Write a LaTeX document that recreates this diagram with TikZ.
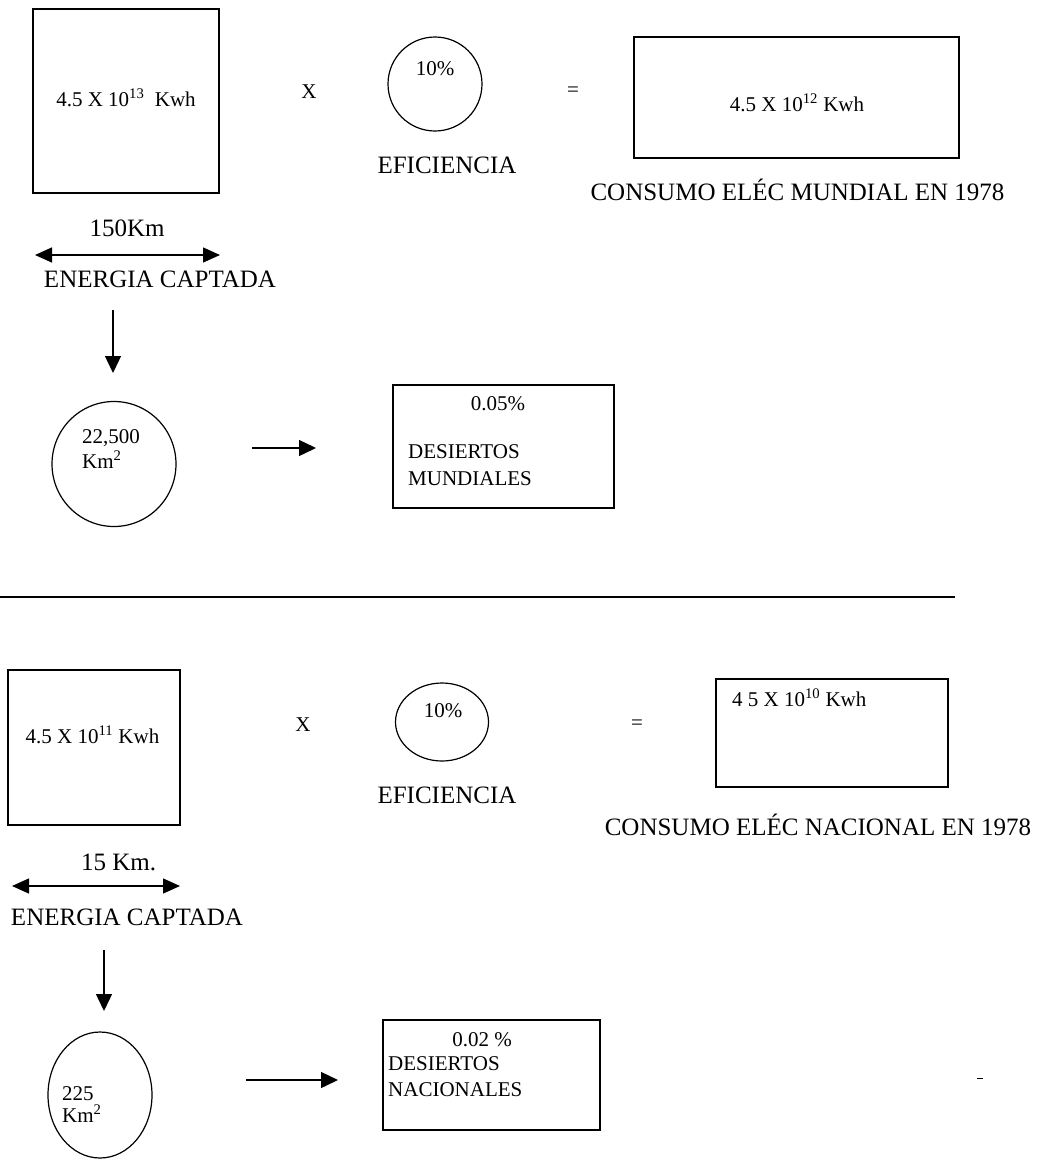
\documentclass[tikz,border=0pt]{standalone}
\usepackage{fontspec}
\setmainfont{Liberation Serif}
\usetikzlibrary{arrows.meta,shapes.geometric}
\begin{document}
\begin{tikzpicture}[x=1pt,y=-1pt,
  lbl/.style={inner sep=0pt,text height=0.66em,text depth=0pt,font=\fontsize{25}{30}\selectfont},
  sml/.style={inner sep=0pt,text height=0.66em,text depth=0pt,font=\fontsize{21}{25}\selectfont},
  boxed/.style={draw,line width=1.3pt,inner sep=0pt,rectangle},
  ell/.style={draw,line width=1.2pt,inner sep=0pt,ellipse},
  arr/.style={line width=1.4pt,-{Triangle[length=17pt,width=16pt]}},
  darr/.style={line width=1.4pt,{Triangle[length=17pt,width=15pt]}-{Triangle[length=17pt,width=15pt]}}]
\fill[white] (0,0) rectangle (1037,1170);
\useasboundingbox (0,0) rectangle (1037,1170);

% ---------- top part ----------
\node[boxed,minimum width=186pt,minimum height=184pt] (sq1) at (126,101) {};
\node[sml] (tsq1) at (126,103) {4.5 X 10\textsuperscript{13}\ \ Kwh};
\node[sml] (xop1) at (309,95) {X};
\node[ell,minimum width=94pt,minimum height=94pt] (c1) at (435,84) {};
\node[sml] (tc1) at (435,72) {10\%};
\node[lbl] (ef1) at (447,170) {EFICIENCIA};
\node[sml] (eq1) at (573,93) {=};
\node[boxed,minimum width=325pt,minimum height=121pt] (r1) at (796.5,97.5) {};
\node[sml] (tr1) at (797,108) {4.5 X 10\textsuperscript{12} Kwh};
\node[lbl] (cons1) at (797.5,197) {CONSUMO ELÉC MUNDIAL EN 1978};

\node[lbl] (km1) at (127,233) {150Km};
\coordinate (da1l) at (35,255);
\coordinate (da1r) at (220,255);
\draw[darr] (da1l) -- (da1r);
\node[lbl] (en1) at (160,284) {ENERGIA CAPTADA};
\coordinate (dn1a) at (113,310);
\coordinate (dn1b) at (113,373);
\draw[arr] (dn1a) -- (dn1b);

\node[ell,minimum width=124pt,minimum height=125pt] (c2) at (114,464) {};
\node[sml,anchor=west] (tc2a) at (82,440) {22,500};
\node[sml,anchor=west] (tc2b) at (82,465) {Km\textsuperscript{2}};
\coordinate (ra1a) at (252,448);
\coordinate (ra1b) at (316,448);
\draw[arr] (ra1a) -- (ra1b);
\node[boxed,minimum width=221pt,minimum height=123pt] (r2) at (503.5,446.5) {};
\node[sml] (tr2a) at (498,407) {0.05\%};
\node[sml,anchor=west] (tr2b) at (408,455) {DESIERTOS};
\node[sml,anchor=west] (tr2c) at (408,482) {MUNDIALES};

% separator
\coordinate (hl1) at (0,597);
\coordinate (hl2) at (955,597);
\draw[line width=1.3pt] (hl1) -- (hl2);

% ---------- bottom part ----------
\node[boxed,minimum width=172pt,minimum height=155pt] (sq2) at (94,747.5) {};
\node[sml] (tsq2) at (92.5,740) {4.5 X 10\textsuperscript{11} Kwh};
\node[sml] (xop2) at (303,728) {X};
\node[ell,minimum width=93pt,minimum height=78pt] (c3) at (442,722) {};
\node[sml] (tc3) at (443,714) {10\%};
\node[lbl] (ef2) at (447,800) {EFICIENCIA};
\node[sml] (eq2) at (637,726) {=};
\node[boxed,minimum width=232pt,minimum height=108pt] (r3) at (832,733) {};
\node[sml,anchor=west] (tr3) at (732,703) {4 5 X 10\textsuperscript{10} Kwh};
\node[lbl] (cons2) at (818,832) {CONSUMO ELÉC NACIONAL EN 1978};

\node[lbl] (km2) at (118.5,867) {15 Km.};
\coordinate (da2l) at (12,886);
\coordinate (da2r) at (180,886);
\draw[darr] (da2l) -- (da2r);
\node[lbl] (en2) at (127,922) {ENERGIA CAPTADA};
\coordinate (dn2a) at (104,950);
\coordinate (dn2b) at (104,1011);
\draw[arr] (dn2a) -- (dn2b);

\node[ell,minimum width=104pt,minimum height=126pt] (c4) at (100,1095) {};
\node[sml,anchor=west] (tc4a) at (62,1097) {225};
\node[sml,anchor=west] (tc4b) at (62,1119) {Km\textsuperscript{2}};
\coordinate (ra2a) at (246,1080);
\coordinate (ra2b) at (338,1080);
\draw[arr] (ra2a) -- (ra2b);
\node[boxed,minimum width=217pt,minimum height=110pt] (r4) at (491.5,1075) {};
\node[sml] (tr4a) at (482,1043) {0.02 \%};
\node[sml,anchor=west] (tr4b) at (388,1067) {DESIERTOS};
\node[sml,anchor=west] (tr4c) at (388,1093) {NACIONALES};

% stray mark
\coordinate (sp1) at (977,1078);
\coordinate (sp2) at (983,1078);
\draw[line width=1pt] (sp1) -- (sp2);
\end{tikzpicture}
\end{document}
